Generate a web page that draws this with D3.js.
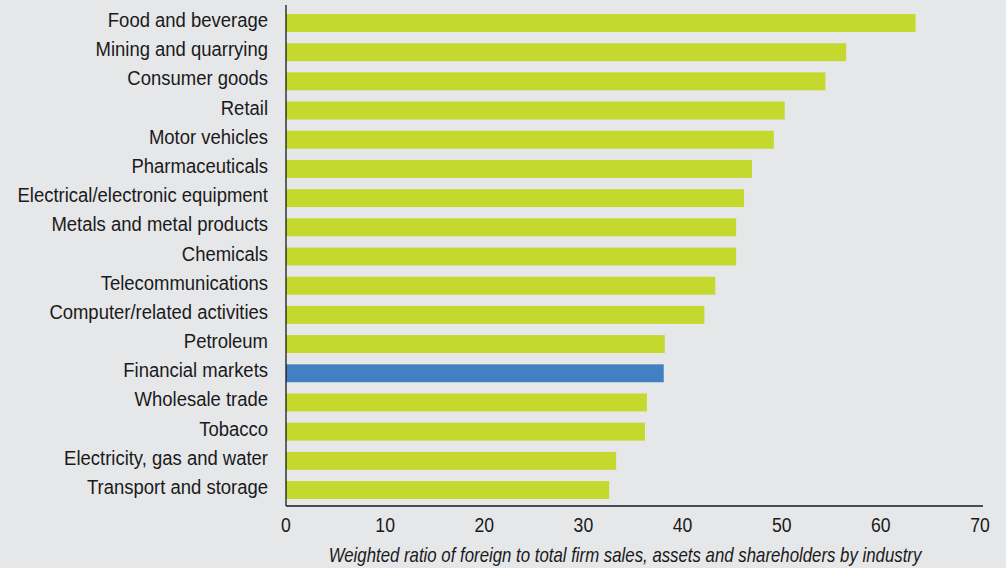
<!DOCTYPE html>
<html>
<head>
<meta charset="utf-8">
<script src="https://cdn.jsdelivr.net/npm/d3@7"></script>
<style>
  body { margin: 0; background: #e6e7e9; }
  svg text { font-family: "Liberation Sans", Arial, sans-serif; fill: #1a1a1a; }
</style>
</head>
<body>
<div id="chart"></div>
<script>
// industries, top to bottom
const industries = ["Food and beverage", "Mining and quarrying", "Consumer goods", "Retail",
  "Motor vehicles", "Pharmaceuticals", "Electrical/electronic equipment", "Metals and metal products",
  "Chemicals", "Telecommunications", "Computer/related activities", "Petroleum", "Financial markets",
  "Wholesale trade", "Tobacco", "Electricity, gas and water", "Transport and storage"];
const ratios = [63.5, 56.5, 54.4, 50.3, 49.2, 47.0, 46.2, 45.4, 45.4, 43.3, 42.2, 38.2, 38.1, 36.4, 36.2, 33.3, 32.6];
const highlight = ["Financial markets"];
const xTicks = [0, 10, 20, 30, 40, 50, 60, 70];
const xTitle = "Weighted ratio of foreign to total firm sales, assets and shareholders by industry";

const W = 1006, H = 568;
const narrow = 0.88; // condensed look, no narrow font installed

const svg = d3.select("#chart").append("svg")
  .attr("width", W).attr("height", H);

svg.append("rect").attr("width", W).attr("height", H).attr("fill", "#e6e7e9");

const x = d3.scaleLinear().domain([0, 70]).range([286, 980]);
const y = d3.scaleBand().domain(industries).range([14, 499]).paddingInner(0.386).paddingOuter(0);

// bars
svg.append("g")
  .selectAll("rect")
  .data(industries)
  .join("rect")
  .attr("x", x(0))
  .attr("y", d => y(d))
  .attr("width", (d, i) => x(ratios[i]) - x(0))
  .attr("height", y.bandwidth())
  .attr("fill", d => highlight.includes(d) ? "#4380c3" : "#c4d82e");

// axis lines
svg.append("line")
  .attr("x1", x(0)).attr("x2", x(0)).attr("y1", 5).attr("y2", 506)
  .attr("stroke", "#1a1a1a").attr("stroke-width", 1.3);
svg.append("line")
  .attr("x1", x(0)).attr("x2", 983).attr("y1", 506).attr("y2", 506)
  .attr("stroke", "#1a1a1a").attr("stroke-width", 1.3);

// category labels
svg.append("g")
  .selectAll("text")
  .data(industries)
  .join("text")
  .attr("transform", d => `translate(268,${y(d) + y.bandwidth() / 2 + 4}) scale(${narrow},1)`)
  .attr("text-anchor", "end")
  .style("font-size", "21px")
  .text(d => d);

// x tick labels
svg.append("g")
  .selectAll("text")
  .data(xTicks)
  .join("text")
  .attr("transform", d => `translate(${x(d)},532) scale(0.84,1)`)
  .attr("text-anchor", "middle")
  .style("font-size", "21px")
  .text(d => d);

// x axis title
svg.append("text")
  .attr("transform", `translate(625,562) scale(0.82,1)`)
  .attr("text-anchor", "middle")
  .style("font-size", "20.5px")
  .style("font-style", "italic")
  .text(xTitle);
</script>
</body>
</html>
